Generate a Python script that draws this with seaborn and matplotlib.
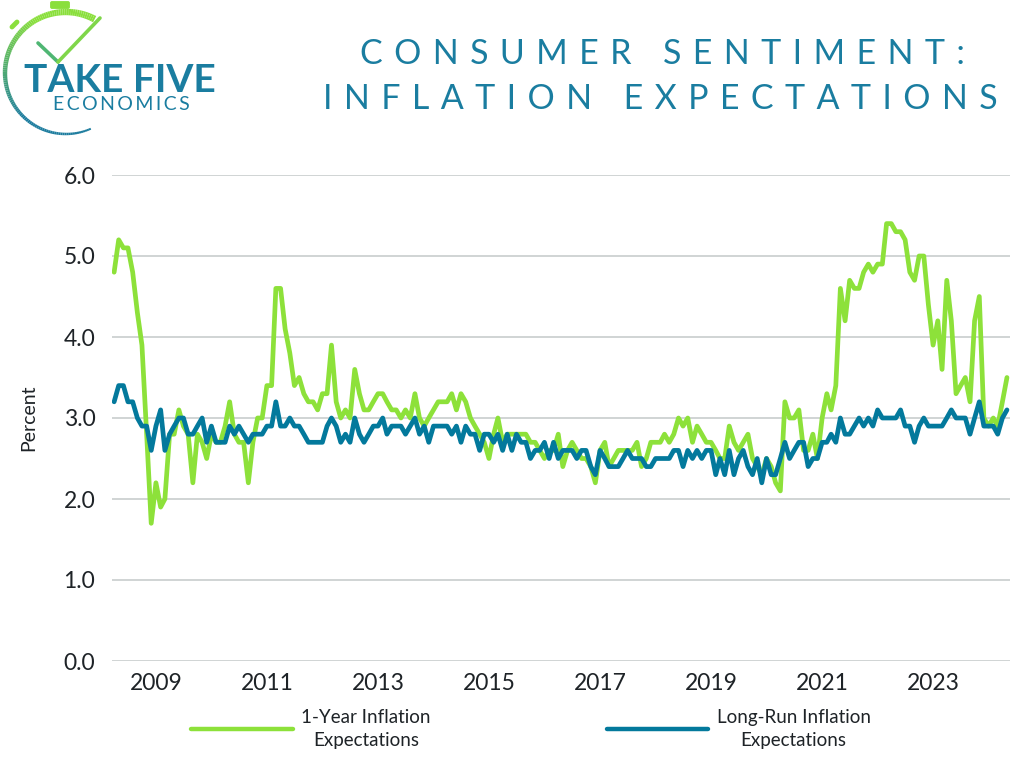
import numpy as np
import pandas as pd
import matplotlib
matplotlib.use("Agg")
import matplotlib.pyplot as plt
from matplotlib.lines import Line2D
from matplotlib.patches import FancyBboxPatch
import seaborn as sns

# ---------------- data (monthly, Apr 2008 - May 2024) ----------------
start_month = "2008-04-01"
one_year = [
    4.8, 5.2, 5.1, 5.1, 4.8, 4.3, 3.9, 2.8, 1.7,                      # 2008 Apr-Dec
    2.2, 1.9, 2.0, 2.8, 2.8, 3.1, 2.9, 2.8, 2.2, 2.8, 2.7, 2.5,       # 2009
    2.8, 2.7, 2.7, 2.9, 3.2, 2.8, 2.7, 2.7, 2.2, 2.7, 3.0, 3.0,       # 2010
    3.4, 3.4, 4.6, 4.6, 4.1, 3.8, 3.4, 3.5, 3.3, 3.2, 3.2, 3.1,       # 2011
    3.3, 3.3, 3.9, 3.2, 3.0, 3.1, 3.0, 3.6, 3.3, 3.1, 3.1, 3.2,       # 2012
    3.3, 3.3, 3.2, 3.1, 3.1, 3.0, 3.1, 3.0, 3.3, 3.0, 2.9, 3.0,       # 2013
    3.1, 3.2, 3.2, 3.2, 3.3, 3.1, 3.3, 3.2, 3.0, 2.9, 2.8, 2.7,       # 2014
    2.5, 2.8, 3.0, 2.7, 2.8, 2.8, 2.8, 2.8, 2.8, 2.7, 2.7, 2.6,       # 2015
    2.5, 2.6, 2.6, 2.8, 2.4, 2.6, 2.7, 2.6, 2.5, 2.5, 2.4, 2.2,       # 2016
    2.6, 2.7, 2.4, 2.5, 2.6, 2.6, 2.6, 2.6, 2.7, 2.4, 2.5, 2.7,       # 2017
    2.7, 2.7, 2.8, 2.7, 2.8, 3.0, 2.9, 3.0, 2.7, 2.9, 2.8, 2.7,       # 2018
    2.7, 2.6, 2.5, 2.5, 2.9, 2.7, 2.6, 2.7, 2.8, 2.5, 2.4, 2.3,       # 2019
    2.5, 2.4, 2.2, 2.1, 3.2, 3.0, 3.0, 3.1, 2.6, 2.6, 2.8, 2.5,       # 2020
    3.0, 3.3, 3.1, 3.4, 4.6, 4.2, 4.7, 4.6, 4.6, 4.8, 4.9, 4.8,       # 2021
    4.9, 4.9, 5.4, 5.4, 5.3, 5.3, 5.2, 4.8, 4.7, 5.0, 5.0, 4.4,       # 2022
    3.9, 4.2, 3.6, 4.7, 4.2, 3.3, 3.4, 3.5, 3.2, 4.2, 4.5, 3.0,       # 2023
    2.9, 3.0, 2.9, 3.2, 3.5,                                          # 2024 Jan-May
]
long_run = [
    3.2, 3.4, 3.4, 3.2, 3.2, 3.0, 2.9, 2.9, 2.6,                      # 2008 Apr-Dec
    2.9, 3.1, 2.6, 2.8, 2.9, 3.0, 3.0, 2.8, 2.8, 2.9, 3.0, 2.7,       # 2009
    2.9, 2.7, 2.7, 2.7, 2.9, 2.8, 2.9, 2.8, 2.7, 2.8, 2.8, 2.8,       # 2010
    2.9, 2.9, 3.2, 2.9, 2.9, 3.0, 2.9, 2.9, 2.8, 2.7, 2.7, 2.7,       # 2011
    2.7, 2.9, 3.0, 2.9, 2.7, 2.8, 2.7, 3.0, 2.8, 2.7, 2.8, 2.9,       # 2012
    2.9, 3.0, 2.8, 2.9, 2.9, 2.9, 2.8, 2.9, 3.0, 2.8, 2.9, 2.7,       # 2013
    2.9, 2.9, 2.9, 2.9, 2.8, 2.9, 2.7, 2.9, 2.8, 2.8, 2.6, 2.8,       # 2014
    2.8, 2.7, 2.8, 2.6, 2.8, 2.6, 2.8, 2.7, 2.7, 2.5, 2.6, 2.6,       # 2015
    2.7, 2.5, 2.7, 2.5, 2.6, 2.6, 2.6, 2.5, 2.6, 2.6, 2.4, 2.3,       # 2016
    2.6, 2.5, 2.4, 2.4, 2.4, 2.5, 2.6, 2.5, 2.5, 2.5, 2.4, 2.4,       # 2017
    2.5, 2.5, 2.5, 2.5, 2.6, 2.6, 2.4, 2.6, 2.5, 2.6, 2.5, 2.6,       # 2018
    2.6, 2.3, 2.5, 2.3, 2.6, 2.3, 2.5, 2.6, 2.4, 2.3, 2.5, 2.2,       # 2019
    2.5, 2.3, 2.3, 2.5, 2.7, 2.5, 2.6, 2.7, 2.7, 2.4, 2.5, 2.5,       # 2020
    2.7, 2.7, 2.8, 2.7, 3.0, 2.8, 2.8, 2.9, 3.0, 2.9, 3.0, 2.9,       # 2021
    3.1, 3.0, 3.0, 3.0, 3.0, 3.1, 2.9, 2.9, 2.7, 2.9, 3.0, 2.9,       # 2022
    2.9, 2.9, 2.9, 3.0, 3.1, 3.0, 3.0, 3.0, 2.8, 3.0, 3.2, 2.9,       # 2023
    2.9, 2.9, 2.8, 3.0, 3.1,                                          # 2024 Jan-May
]
series_names = ["1-Year Inflation\nExpectations", "Long-Run Inflation\nExpectations"]
year_ticks = [2009, 2011, 2013, 2015, 2017, 2019, 2021, 2023]
y_ticks = [0.0, 1.0, 2.0, 3.0, 4.0, 5.0, 6.0]
title_lines = ["CONSUMER SENTIMENT:", "INFLATION EXPECTATIONS"]
y_label = "Percent"

GREEN = "#8DE13A"
BLUE = "#03799C"
TEAL = "#1A7DA0"
TXT = "#1E2327"

sns.set_theme(style="white")
plt.rcParams["font.family"] = ["Lato", "DejaVu Sans"]

n = len(one_year)
dates = pd.date_range(start_month, periods=n, freq="MS")
df = pd.DataFrame({
    "date": list(dates) + list(dates),
    "value": one_year + long_run,
    "series": [series_names[0]] * n + [series_names[1]] * n,
})

fig = plt.figure(figsize=(10.24, 7.68), dpi=100)
fig.patch.set_facecolor("white")
W, H = 1024.0, 768.0
ax = fig.add_axes([112 / W, 1 - 661 / H, 898 / W, 486 / H])

sns.lineplot(data=df, x="date", y="value", hue="series",
             palette=[GREEN, BLUE], linewidth=3.4, ax=ax, legend=False)
for ln in ax.lines:
    ln.set_solid_joinstyle("round")
    ln.set_solid_capstyle("round")
    ln.set_zorder(3)

ax.set_ylim(0, 6)
ax.set_xlim(dates[0] - pd.Timedelta(days=14), dates[-1] + pd.Timedelta(days=20))
ax.set_yticks(y_ticks)
ax.set_yticklabels([f"{v:.1f}" for v in y_ticks])
ax.set_xticks([pd.Timestamp(f"{y}-01-01") for y in year_ticks])
ax.set_xticklabels([str(y) for y in year_ticks])
ax.tick_params(axis="both", length=0, labelsize=16.5, labelcolor=TXT)
ax.tick_params(axis="y", pad=12)
ax.tick_params(axis="x", pad=9)
ax.yaxis.grid(True, color="#C8CDCD", linewidth=1.2, zorder=0)
ax.xaxis.grid(False)
for s in ax.spines.values():
    s.set_visible(False)
ax.set_xlabel("")
ax.set_ylabel(y_label, fontsize=14, color=TXT)
ax.yaxis.set_label_coords((37 - 112) / 898, 0.5)

# legend
handles = [Line2D([0], [0], color=GREEN, lw=3.2), Line2D([0], [0], color=BLUE, lw=3.2)]
leg = fig.legend(handles, series_names, loc="center", bbox_to_anchor=(531 / W, 1 - 729 / H),
                 ncol=2, frameon=False, fontsize=13.5, handlelength=5.4, handletextpad=0.45,
                 columnspacing=9.4)
for t in leg.get_texts():
    t.set_multialignment("center")
    t.set_linespacing(1.4)
    t.set_color(TXT)

# title (letter-spaced)
SP = "\u2004"
def spaced(s):
    return (SP + " " + SP).join(SP.join(list(w)) for w in s.split(" "))

fig.text(662 / W, 1 - 54 / H, spaced(title_lines[0]), ha="center", va="center",
         fontsize=24.5, color=TEAL, family=["Lato", "DejaVu Sans"])
fig.text(660 / W, 1 - 99 / H, spaced(title_lines[1]), ha="center", va="center",
         fontsize=24.5, color=TEAL, family=["Lato", "DejaVu Sans"])

# logo
lax = fig.add_axes([0, 1 - 140 / H, 240 / W, 140 / H])
lax.set_xlim(0, 240)
lax.set_ylim(140, 0)
lax.axis("off")
cx, cy, r = 66, 73, 61
g = np.array(matplotlib.colors.to_rgb("#8ADF3C"))
b = np.array(matplotlib.colors.to_rgb("#1C7C9E"))
angs = np.linspace(62, 294, 120)
for k in range(len(angs) - 1):
    a0, a1 = np.radians(angs[k]), np.radians(angs[k + 1])
    f = (angs[k] - 62) / (294 - 62)
    mix = min(1.0, max(0.0, (f - 0.25) / 0.45))
    col = g * (1 - mix) + b * mix
    lw = 5.0 - 3.6 * f
    lax.plot([cx + r * np.cos(a0), cx + r * np.cos(a1)],
             [cy - r * np.sin(a0), cy - r * np.sin(a1)],
             color=col, lw=lw, solid_capstyle="butt")
lax.add_patch(FancyBboxPatch((52, 3), 16, 4, boxstyle="round,pad=1.2", color="#8ADF3C"))
lax.plot([12, 17], [27, 22], color="#8ADF3C", lw=3.5, solid_capstyle="round")
lax.plot([38, 58], [43, 62], color="#4FB673", lw=2.6, solid_capstyle="round")
lax.plot([58, 100], [62, 18], color="#7FD64A", lw=2.6, solid_capstyle="round")
lax.text(120, 80, "TAKE FIVE", ha="center", va="center", fontsize=28, fontweight="bold",
         color=TEAL, family=["Lato", "DejaVu Sans"])
lax.text(121, 104, "\u2009".join(list("ECONOMICS")), ha="center", va="center", fontsize=14,
         color=TEAL, family=["Lato", "DejaVu Sans"])

fig.savefig("out.png", dpi=100, facecolor="white")
